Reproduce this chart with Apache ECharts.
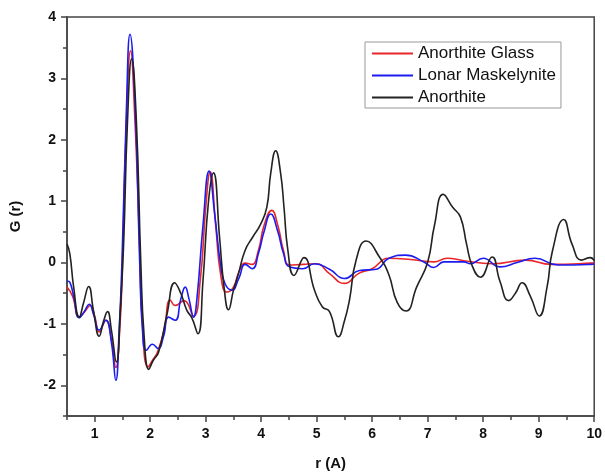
<!DOCTYPE html>
<html>
<head>
<meta charset="utf-8">
<script src="https://cdn.jsdelivr.net/npm/echarts@6/dist/echarts.min.js"></script>
<style>
  html, body { margin: 0; padding: 0; background: #fff; }
  #chart { width: 605px; height: 476px; }
</style>
</head>
<body>
<div id="chart"></div>
<script>
// Anorthite Glass (red)
var glassR = [0.5, 0.6, 0.72, 0.82, 0.92, 1.0, 1.08, 1.2, 1.3, 1.38, 1.45, 1.5, 1.56, 1.646, 1.72, 1.8, 1.86, 1.96, 2.05, 2.13, 2.25, 2.36, 2.45, 2.61, 2.78, 2.9, 3.0, 3.08, 3.18, 3.27, 3.38, 3.5, 3.6, 3.71, 3.83, 3.95, 4.05, 4.19, 4.3, 4.4, 4.51, 4.75, 4.99, 5.23, 5.5, 5.75, 6.0, 6.3, 6.69, 7.11, 7.35, 7.65, 8.16, 8.76, 9.23, 9.95, 10];
var glassG = [-0.40, -0.55, -0.89, -0.80, -0.70, -0.88, -1.13, -0.94, -1.25, -1.71, -1.10, 0.0, 2.0, 3.45, 2.4, 0.5, -1.0, -1.70, -1.58, -1.46, -1.10, -0.61, -0.70, -0.62, -0.87, -0.30, 0.90, 1.48, 0.60, -0.20, -0.48, -0.40, -0.15, -0.01, -0.03, 0.20, 0.60, 0.85, 0.60, 0.20, -0.04, -0.03, -0.02, -0.18, -0.34, -0.18, -0.10, 0.07, 0.05, 0.01, 0.07, 0.03, -0.02, 0.04, -0.03, -0.01, 0.0];

// Lonar Maskelynite (blue)
var maskR = [0.5, 0.55, 0.62, 0.72, 0.81, 0.9, 0.98, 1.08, 1.2, 1.3, 1.38, 1.44, 1.49, 1.57, 1.635, 1.73, 1.81, 1.86, 1.93, 2.04, 2.14, 2.24, 2.33, 2.45, 2.55, 2.63, 2.7, 2.78, 2.84, 2.95, 3.06, 3.16, 3.27, 3.35, 3.47, 3.6, 3.71, 3.84, 3.95, 4.05, 4.17, 4.3, 4.4, 4.51, 4.75, 4.96, 5.23, 5.5, 5.77, 6.07, 6.3, 6.6, 6.93, 7.11, 7.29, 7.65, 7.77, 8.0, 8.3, 8.61, 8.93, 9.35, 9.95, 10];
var maskG = [-0.30, -0.32, -0.55, -0.90, -0.80, -0.68, -0.85, -1.10, -0.94, -1.30, -1.92, -1.10, 0.0, 2.48, 3.72, 2.48, 0.0, -1.10, -1.43, -1.33, -1.40, -1.20, -0.89, -0.94, -0.60, -0.40, -0.60, -0.89, -0.60, 0.60, 1.49, 0.80, -0.05, -0.35, -0.45, -0.25, -0.03, -0.10, 0.15, 0.50, 0.79, 0.50, 0.15, -0.07, -0.10, -0.02, -0.11, -0.26, -0.13, -0.11, 0.07, 0.12, 0.01, -0.08, 0.01, 0.01, -0.02, 0.07, -0.07, 0.0, 0.07, -0.04, -0.03, -0.02];

// Anorthite (black)
var anorR = [0.5, 0.55, 0.62, 0.72, 0.8, 0.89, 0.98, 1.08, 1.16, 1.23, 1.3, 1.39, 1.46, 1.52, 1.59, 1.665, 1.75, 1.83, 1.89, 1.975, 2.05, 2.15, 2.3, 2.44, 2.55, 2.66, 2.75, 2.86, 2.95, 3.05, 3.14, 3.25, 3.33, 3.41, 3.5, 3.59, 3.71, 3.85, 3.98, 4.1, 4.17, 4.26, 4.35, 4.41, 4.48, 4.59, 4.77, 4.96, 5.1, 5.23, 5.39, 5.5, 5.59, 5.71, 5.89, 6.13, 6.3, 6.45, 6.61, 6.8, 7.0, 7.12, 7.28, 7.45, 7.59, 7.7, 7.8, 7.95, 8.16, 8.3, 8.46, 8.58, 8.7, 8.85, 9.01, 9.15, 9.25, 9.45, 9.6, 9.77, 9.93, 10];
var anorG = [0.30, 0.15, -0.40, -0.89, -0.65, -0.39, -0.80, -1.20, -0.95, -0.80, -1.10, -1.62, -0.80, 0.30, 2.30, 3.32, 2.30, 0.0, -1.20, -1.74, -1.60, -1.46, -0.85, -0.33, -0.50, -0.78, -0.90, -1.16, -0.30, 1.00, 1.46, 0.40, -0.40, -0.77, -0.45, -0.18, 0.20, 0.42, 0.61, 0.90, 1.45, 1.82, 1.45, 0.90, 0.20, -0.21, 0.08, -0.45, -0.72, -0.80, -1.21, -0.95, -0.61, 0.04, 0.35, 0.09, -0.20, -0.65, -0.79, -0.40, 0.01, 0.60, 1.11, 0.90, 0.74, 0.30, -0.05, -0.24, 0.09, -0.30, -0.62, -0.50, -0.33, -0.55, -0.87, -0.40, 0.20, 0.70, 0.30, 0.04, 0.08, 0.03];

var xLabels = [1, 2, 3, 4, 5, 6, 7, 8, 9, 10];
var xMinor = [0.5, 1.5, 2.5, 3.5, 4.5, 5.5, 6.5, 7.5, 8.5, 9.5];
var yLabels = [-2, -1, 0, 1, 2, 3, 4];
var yMinor = [-2.5, -1.5, -0.5, 0.5, 1.5, 2.5, 3.5];

function pairs(xs, ys) {
    return xs.map(function (x, i) { return [x, ys[i]]; });
}

var font = 'Arial, "Liberation Sans", sans-serif';
var axisColor = '#444';

function lineSeries(name, color, xs, ys) {
    return {
        name: name,
        type: 'line',
        symbol: 'none',
        smooth: 0.5,
        lineStyle: { color: color, width: 1.6 },
        itemStyle: { color: color },
        data: pairs(xs, ys)
    };
}

var chart = echarts.init(document.getElementById('chart'));
chart.setOption({
    animation: false,
    grid: {
        left: 66, right: 9, top: 17, bottom: 59,
        show: true, borderColor: axisColor, borderWidth: 1.5
    },
    legend: {
        left: 365, top: 42,
        orient: 'vertical',
        icon: 'rect',
        itemWidth: 41, itemHeight: 2,
        itemGap: 5,
        padding: [3, 5, 2, 7],
        borderColor: '#999', borderWidth: 1,
        textStyle: { fontFamily: font, fontSize: 17, color: '#111', lineHeight: 17 },
        data: ['Anorthite Glass', 'Lonar Maskelynite', 'Anorthite']
    },
    xAxis: [{
        type: 'value', min: 0.5, max: 10,
        name: 'r (A)', nameLocation: 'middle', nameGap: 40,
        nameTextStyle: { fontFamily: font, fontSize: 15, fontWeight: 'bold', color: '#111' },
        axisLine: { show: true, onZero: false, lineStyle: { color: axisColor, width: 1.5 } },
        axisTick: { show: true, length: 6, customValues: xLabels, lineStyle: { color: axisColor, width: 1.5 } },
        axisLabel: { customValues: xLabels, margin: 11, fontFamily: font, fontSize: 14, fontWeight: 'bold', color: '#111' },
        splitLine: { show: false }
    }, {
        type: 'value', min: 0.5, max: 10, position: 'bottom',
        axisLine: { show: false, onZero: false },
        axisTick: { show: true, length: 4, customValues: xMinor, lineStyle: { color: axisColor, width: 1.5 } },
        axisLabel: { show: false },
        splitLine: { show: false }
    }],
    yAxis: [{
        type: 'value', min: -2.5, max: 4,
        name: 'G (r)', nameLocation: 'middle', nameGap: 44, nameRotate: 90,
        nameTextStyle: { fontFamily: font, fontSize: 15, fontWeight: 'bold', color: '#111' },
        axisLine: { show: true, onZero: false, lineStyle: { color: axisColor, width: 1.5 } },
        axisTick: { show: true, length: 6, customValues: yLabels, lineStyle: { color: axisColor, width: 1.5 } },
        axisLabel: { customValues: yLabels, margin: 11, fontFamily: font, fontSize: 14, fontWeight: 'bold', color: '#111' },
        splitLine: { show: false }
    }, {
        type: 'value', min: -2.5, max: 4, position: 'left',
        axisLine: { show: false, onZero: false },
        axisTick: { show: true, length: 4, customValues: yMinor, lineStyle: { color: axisColor, width: 1.5 } },
        axisLabel: { show: false },
        splitLine: { show: false }
    }],
    series: [
        lineSeries('Anorthite Glass', '#e8262a', glassR, glassG),
        lineSeries('Lonar Maskelynite', '#1c1cf0', maskR, maskG),
        lineSeries('Anorthite', '#222222', anorR, anorG)
    ]
});
</script>
</body>
</html>
